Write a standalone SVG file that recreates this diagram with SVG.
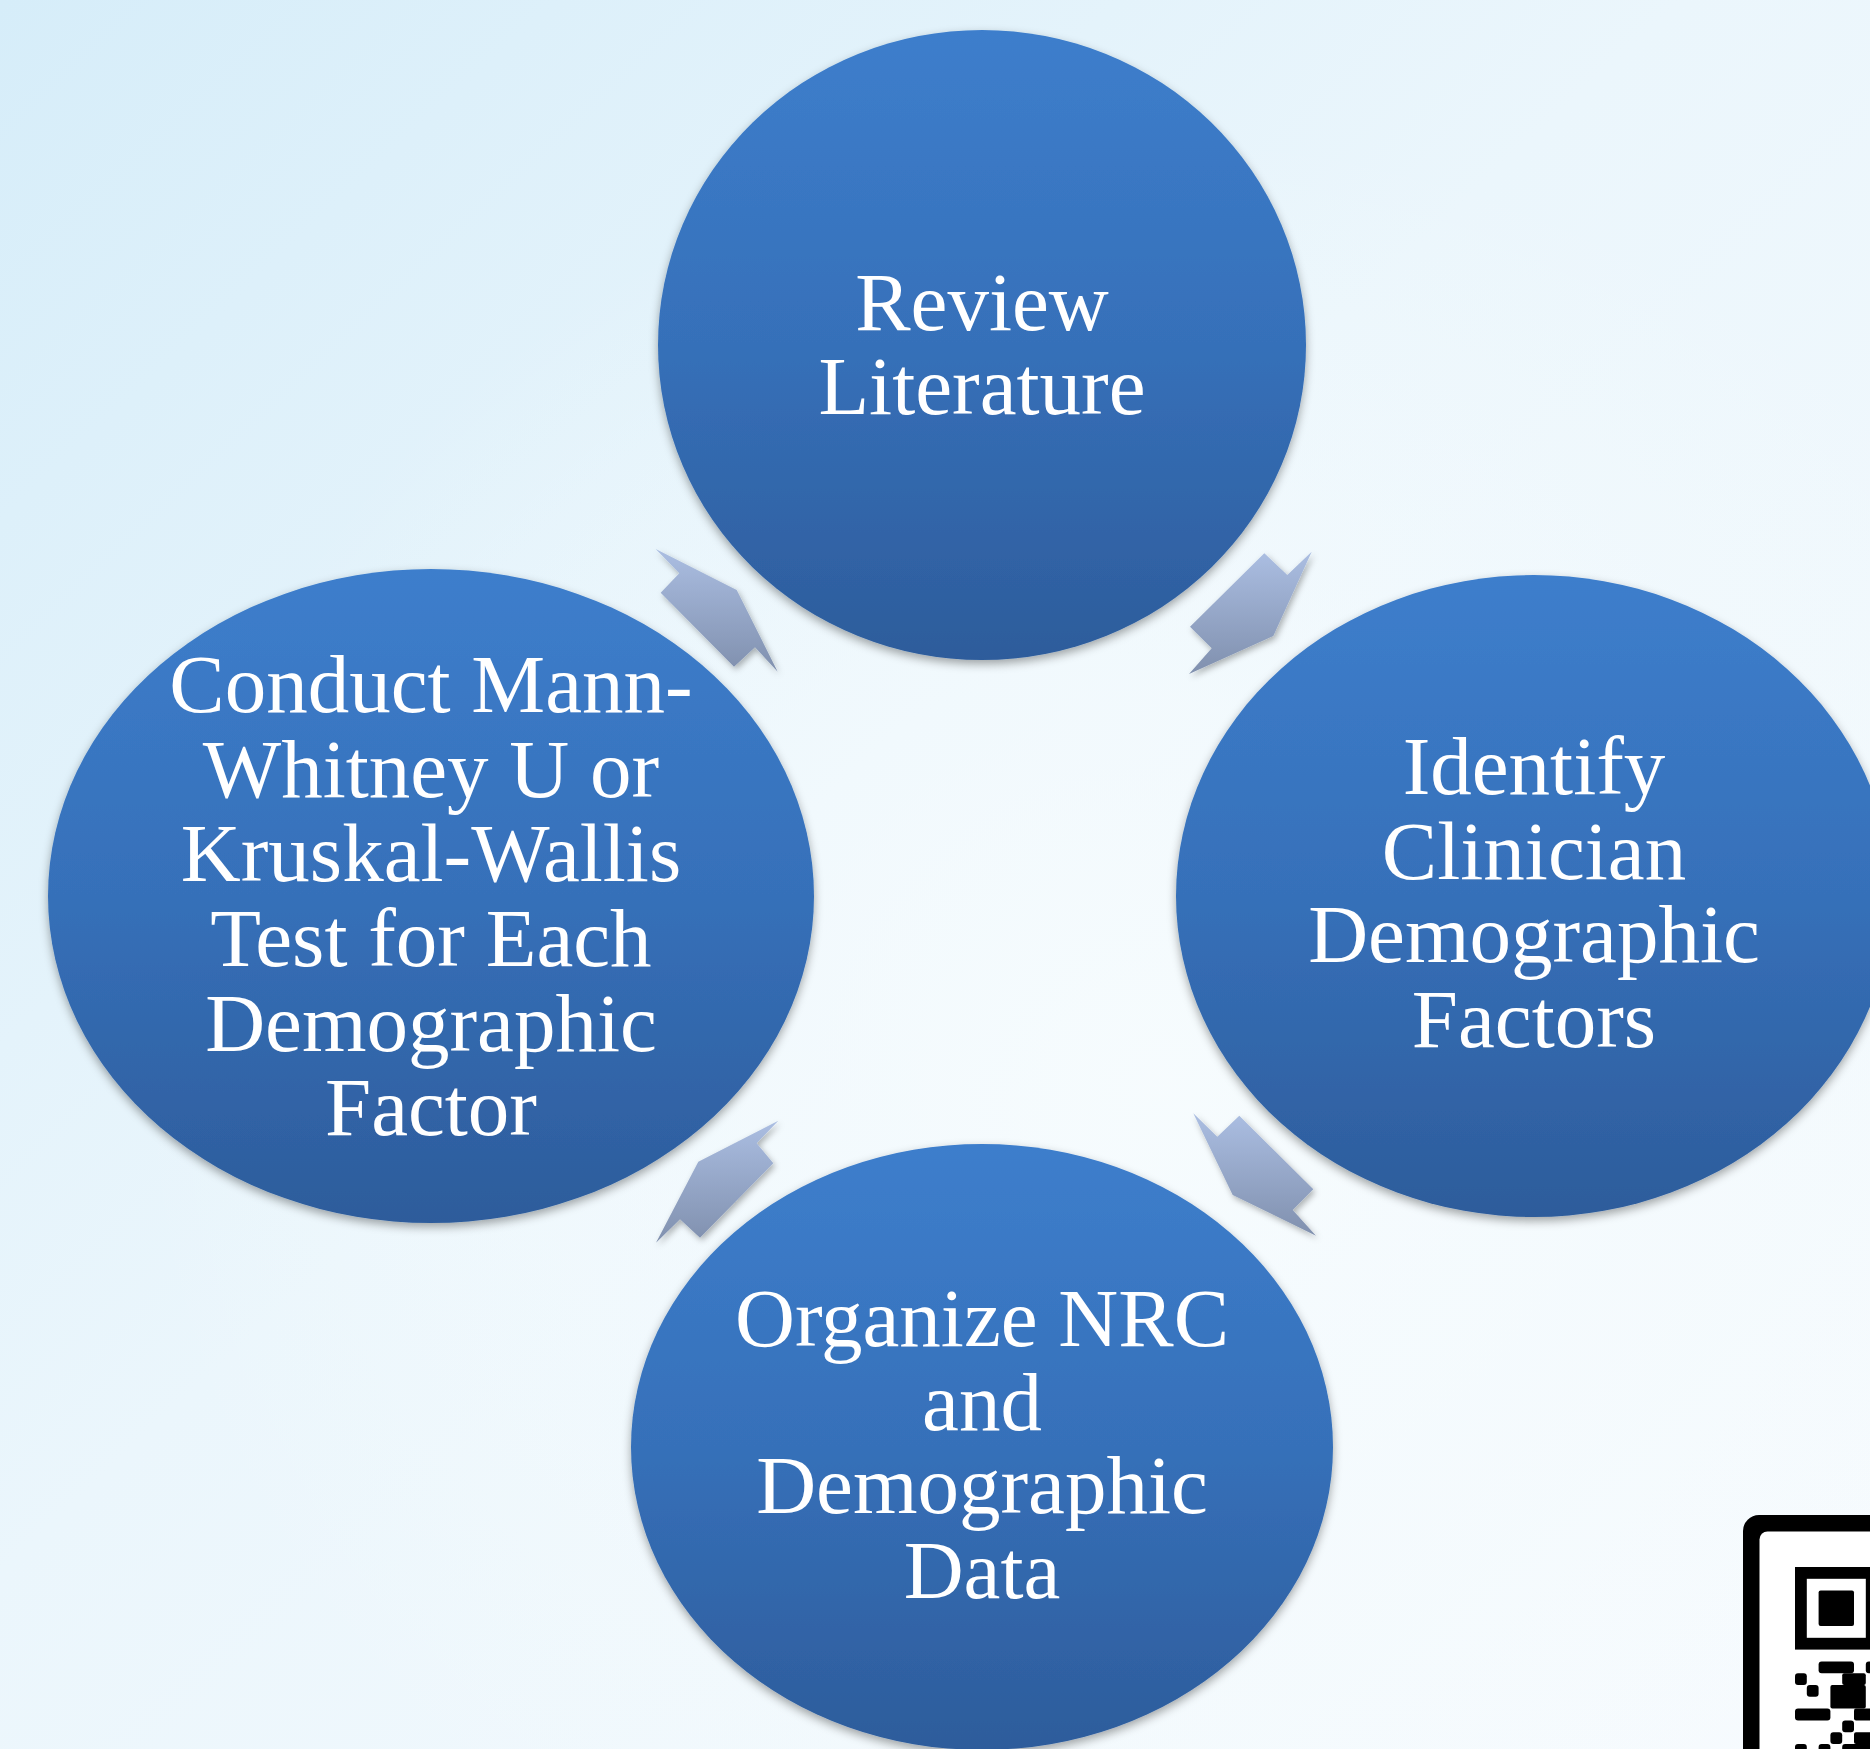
<svg xmlns="http://www.w3.org/2000/svg" width="1870" height="1749" viewBox="0 0 1870 1749">
  <defs>
    <linearGradient id="bg" x1="0" y1="0" x2="1" y2="1">
      <stop offset="0" stop-color="#d6edf9"/>
      <stop offset="0.45" stop-color="#ebf6fc"/>
      <stop offset="1" stop-color="#f7fbfe"/>
    </linearGradient>
    <radialGradient id="bgGlow" cx="0.62" cy="0.62" r="0.55">
      <stop offset="0" stop-color="#f7fcfe" stop-opacity="0.9"/>
      <stop offset="1" stop-color="#f7fcfe" stop-opacity="0"/>
    </radialGradient>
    <linearGradient id="nodeFill" x1="0" y1="0" x2="0" y2="1">
      <stop offset="0" stop-color="#3d7ecc"/>
      <stop offset="0.5" stop-color="#3670b9"/>
      <stop offset="1" stop-color="#2d5c9b"/>
    </linearGradient>
    <linearGradient id="arrowFill" x1="0" y1="0" x2="0" y2="1">
      <stop offset="0" stop-color="#abbee2"/>
      <stop offset="1" stop-color="#8090ae"/>
    </linearGradient>
    <filter id="shadow" x="-10%" y="-10%" width="120%" height="125%">
      <feDropShadow dx="0" dy="4" stdDeviation="5" flood-color="#000" flood-opacity="0.35"/>
    </filter>
    <filter id="arrowShadow" x="-20%" y="-20%" width="140%" height="140%">
      <feDropShadow dx="2" dy="3" stdDeviation="3" flood-color="#000" flood-opacity="0.3"/>
    </filter>
    <style>
      .node { fill: url(#nodeFill); filter: url(#shadow); }
      .label { fill: #ffffff; font-family: "Liberation Serif", "Times New Roman", serif; font-size: 83px; text-anchor: middle; }
      .arrow { fill: url(#arrowFill); filter: url(#arrowShadow); }
      .qr { fill: #000000; }
    </style>
  </defs>

  <!-- background -->
  <rect x="0" y="0" width="1870" height="1749" fill="url(#bg)"/>
  <rect x="0" y="0" width="1870" height="1749" fill="url(#bgGlow)"/>

  <!-- cycle arrows between the steps -->
  <g id="connectors">
    <polygon class="arrow" points="1264.3,553.3 1287.3,575 1311.7,551.7 1273.3,636 1189,674 1211.7,648.3 1190,626.7"/>
    <polygon class="arrow" points="1193.3,1113.3 1217.3,1136.7 1239.3,1115.7 1313.3,1189.3 1292.7,1210 1316,1235.7 1232.7,1195"/>
    <polygon class="arrow" points="778.3,1120.7 756.7,1143.3 773.3,1163.3 700,1237.7 680,1219.3 656,1242.7 698.3,1161.7"/>
    <polygon class="arrow" points="655.7,549 679.3,573.3 660.7,592.7 734,666.7 755,647.3 777.7,671.7 736.7,590"/>
  </g>

  <!-- step: review literature -->
  <g id="node-review">
    <ellipse class="node" cx="982" cy="345" rx="324" ry="315"/>
    <text class="label" x="982" y="330">Review</text>
    <text class="label" x="982" y="414">Literature</text>
  </g>

  <!-- step: identify factors -->
  <g id="node-identify">
    <ellipse class="node" cx="1534" cy="896" rx="358" ry="321"/>
    <text class="label" x="1534" y="794">Identify</text>
    <text class="label" x="1534" y="879">Clinician</text>
    <text class="label" x="1534" y="962">Demographic</text>
    <text class="label" x="1534" y="1047">Factors</text>
  </g>

  <!-- step: organize data -->
  <g id="node-organize">
    <ellipse class="node" cx="982" cy="1447" rx="351" ry="303"/>
    <text class="label" x="982" y="1346">Organize NRC</text>
    <text class="label" x="982" y="1430">and</text>
    <text class="label" x="982" y="1513">Demographic</text>
    <text class="label" x="982" y="1598">Data</text>
  </g>

  <!-- step: statistical tests -->
  <g id="node-conduct">
    <ellipse class="node" cx="431" cy="896" rx="383" ry="327"/>
    <text class="label" x="431" y="712">Conduct Mann-</text>
    <text class="label" x="431" y="797">Whitney U or</text>
    <text class="label" x="431" y="881">Kruskal-Wallis</text>
    <text class="label" x="431" y="966">Test for Each</text>
    <text class="label" x="431" y="1051">Demographic</text>
    <text class="label" x="431" y="1135">Factor</text>
  </g>

  <!-- QR code in the corner (partly outside the page) -->
  <g id="qr-code">
    <rect x="1743" y="1515" width="160" height="260" rx="16" class="qr"/>
    <rect x="1759.5" y="1531.5" width="140" height="240" rx="8" fill="#ffffff"/>
    <!-- finder pattern -->
    <rect x="1795" y="1567" width="82.6" height="82.6" class="qr"/>
    <rect x="1806.8" y="1578.8" width="59" height="59" fill="#ffffff"/>
    <rect x="1818.6" y="1590.6" width="35.4" height="35.4" rx="2" class="qr"/>
    <!-- data modules -->
    <g class="qr">
      <rect x="1818.6" y="1661.4" width="35.4" height="11.8" rx="3"/>
      <rect x="1865.8" y="1661.4" width="11.8" height="11.8" rx="3"/>
      <rect x="1795" y="1673.2" width="11.8" height="11.8" rx="3"/>
      <rect x="1842.2" y="1673.2" width="23.6" height="11.8" rx="2"/>
      <rect x="1806.8" y="1685" width="11.8" height="11.8" rx="3"/>
      <rect x="1830.4" y="1685" width="35.4" height="23.6" rx="2"/>
      <rect x="1795" y="1708.6" width="35.4" height="11.8" rx="3"/>
      <rect x="1854" y="1708.6" width="23.6" height="11.8" rx="2"/>
      <rect x="1842.2" y="1720.4" width="11.8" height="11.8" rx="3"/>
      <rect x="1830.4" y="1732.2" width="11.8" height="11.8" rx="3"/>
      <rect x="1854" y="1732.2" width="23.6" height="11.8" rx="2"/>
      <rect x="1795" y="1744" width="11.8" height="11.8" rx="3"/>
      <rect x="1818.6" y="1744" width="11.8" height="11.8" rx="3"/>
      <rect x="1842.2" y="1744" width="35.4" height="11.8" rx="3"/>
    </g>
  </g>
</svg>
